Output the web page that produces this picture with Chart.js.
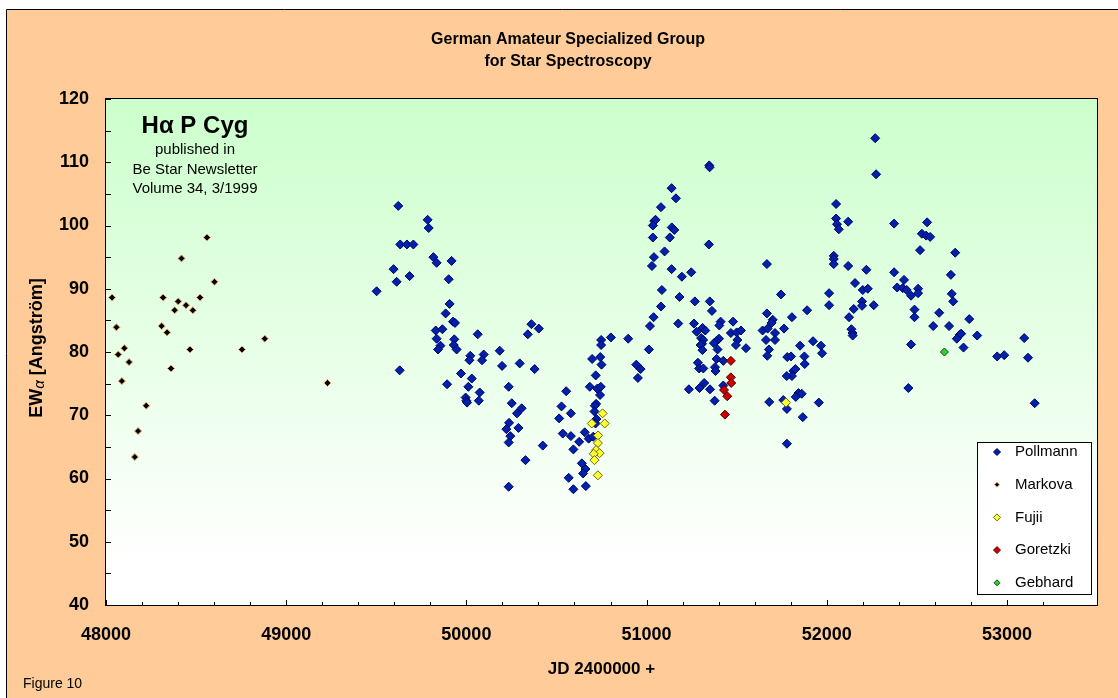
<!DOCTYPE html>
<html>
<head>
<meta charset="utf-8">
<title>H-alpha P Cyg</title>
<script src="https://cdn.jsdelivr.net/npm/chart.js@4.4.0/dist/chart.umd.min.js"></script>
<style>
  html, body { margin: 0; padding: 0; background: #ffffff; }
  #wrap { position: relative; width: 1118px; height: 698px; }
</style>
</head>
<body>
<div id="wrap"><canvas id="ha-chart"></canvas></div>
<script>
// values (JD - 2400000, EW in Angstrom)
const pollmannJD = [
  49502, 49622, 49630, 49785, 49791, 49633, 49670, 49706, 49817, 49835,
  49918, 49596, 49685, 49613, 49902, 49907, 49885, 49926, 49937, 49830,
  49867, 49835, 49933, 50063, 49856, 49843, 49930, 49946, 50361, 50402,
  50341, 50185, 50022, 50017, 50096, 50087, 50198, 50296, 50379, 49970,
  50030, 49893, 50011, 50235, 50074, 49996, 50000, 50004, 50069, 50554,
  50252, 50307, 50281, 50528, 50580, 50515, 50237, 50222, 50289, 50244,
  50235, 50535, 50580, 50626, 50424, 50594, 50328, 50568, 50594, 50235,
  51348, 51350, 51139, 51163, 51080, 51043, 51050, 51035, 51140, 51154,
  51035, 51129, 51346, 51100, 51041, 51030, 51139, 51196, 51248, 51668,
  51085, 51183, 51268, 51351, 51080, 51363, 51668, 51039, 51019, 51176,
  51263, 51411, 51404, 51480, 51311, 51326, 51278, 51468, 51500, 51524,
  51644, 51672, 51303, 51314, 51308, 51300, 51310, 51402, 51387, 51374,
  51504, 51496, 51663, 51394, 51552, 51679, 51670, 50748, 50748, 50802,
  50898, 51013, 50698, 50743, 50750, 50943, 50967, 50952, 51285, 51292,
  51315, 51389, 51426, 51380, 51383, 50718, 50685, 50726, 50746, 50742,
  51235, 51294, 51320, 51352, 51426, 51378, 51681, 50720, 50713, 50711,
  50722, 50717, 50657, 50679, 50704, 50641, 50661, 50648, 50663,
  52269, 52274, 52052, 52052, 52057, 52067, 52119, 52374, 52557, 52528,
  52552, 52574, 52518, 52713, 52039, 52039, 52039, 52119, 52220, 52374,
  52689, 52429, 52157, 52200, 52228, 52391, 52422, 52444, 52468, 52507,
  52507, 52694, 52702, 51746, 52013, 52013, 52196, 52196, 52261, 51891,
  52150, 52487, 52487, 52624, 51807, 52124, 51700, 51694, 52591, 52679,
  52737, 52722, 51763, 51713, 52137, 52143, 52144, 51713, 51924, 51968,
  51974, 51852, 52468, 51781, 51802, 51876, 51878, 51815, 51826, 51807,
  51778, 51843, 51828, 51861, 51759, 51779, 51956, 51867, 52453, 51779,
  52791, 52746, 52835, 52759, 53096, 52946, 52985, 53117, 53154
];
const pollmannEW = [
  89.6, 103.1, 77.1, 100.9, 99.6, 97.0, 97.0, 97.0, 95.0, 94.1,
  94.4, 93.1, 92.0, 91.1, 91.5, 87.6, 86.1, 84.8, 84.6, 83.4,
  83.6, 82.1, 82.0, 82.8, 81.0, 80.4, 81.1, 80.4, 84.4, 83.7,
  82.8, 80.2, 79.4, 78.7, 79.6, 78.7, 77.8, 78.2, 77.3, 76.6,
  75.8, 74.9, 74.5, 74.5, 73.6, 72.8, 72.3, 72.0, 72.3, 73.8,
  71.9, 71.1, 70.3, 71.4, 70.3, 69.5, 68.8, 67.8, 68.0, 66.7,
  65.7, 67.1, 66.7, 65.8, 65.2, 64.6, 62.9, 60.1, 58.3, 58.7,
  109.5, 109.2, 105.9, 104.3, 102.9, 100.7, 100.9, 100.0, 99.7, 99.3,
  98.1, 98.1, 97.0, 95.9, 95.0, 93.6, 93.1, 91.9, 92.6, 93.9,
  89.8, 88.7, 88.0, 88.0, 87.2, 86.5, 86.1, 85.5, 84.1, 84.5,
  84.5, 84.8, 84.2, 84.8, 83.8, 83.4, 83.2, 83.0, 83.1, 83.4,
  83.4, 83.7, 82.2, 81.9, 81.3, 81.1, 80.3, 82.1, 81.7, 81.4,
  81.9, 81.1, 81.9, 80.4, 80.6, 80.4, 79.4, 81.9, 81.1, 82.3,
  82.1, 80.4, 78.9, 79.2, 78.0, 78.0, 77.3, 75.9, 78.3, 77.4,
  77.4, 78.9, 78.6, 77.6, 77.0, 76.3, 74.5, 74.2, 74.5, 73.2,
  74.1, 74.3, 75.1, 74.1, 74.7, 72.3, 72.1, 71.8, 71.5, 70.6,
  69.4, 68.7, 67.3, 66.3, 66.6, 62.4, 61.5, 60.8, 58.8,
  113.8, 108.1, 103.4, 101.1, 100.2, 99.4, 100.6, 100.3, 100.5, 98.7,
  98.4, 98.2, 96.1, 95.7, 95.2, 94.7, 93.9, 93.6, 93.0, 92.6,
  92.2, 91.4, 90.9, 89.8, 90.0, 90.2, 90.1, 89.8, 88.9, 90.0,
  89.3, 89.2, 88.0, 89.1, 89.3, 87.4, 88.0, 87.3, 87.4, 86.6,
  86.8, 86.7, 85.5, 86.2, 85.5, 85.5, 85.1, 84.6, 84.1, 84.1,
  82.7, 82.1, 83.7, 83.0, 83.6, 83.0, 82.6, 81.9, 81.7, 81.0,
  79.8, 81.0, 81.2, 79.2, 79.3, 79.3, 78.1, 77.0, 77.3, 76.2,
  76.2, 73.5, 72.9, 73.4, 72.4, 71.0, 72.0, 69.7, 74.3, 65.5,
  85.2, 82.9, 82.6, 80.7, 82.2, 79.3, 79.5, 79.1, 71.9
];

const markovaJD = [
  48034, 48317, 48401, 48444, 48381, 48482, 48522, 48419, 48560, 48602,
  48058, 48068, 48102, 48128, 48088, 48223, 48178, 48160, 48309, 48339,
  48361, 48466, 48755, 48881, 49229
];
const markovaEW = [
  88.6, 88.6, 88.0, 87.4, 86.6, 86.6, 88.6, 94.8, 98.1, 91.1,
  83.9, 79.6, 80.6, 78.4, 75.4, 71.5, 67.5, 63.4, 84.1, 83.1,
  77.4, 80.4, 80.4, 82.1, 75.1
];

const fujiiJD = [50756, 50696, 50768, 50731, 50730, 50720, 50739, 50707, 50711, 50730, 51774];
const fujiiEW = [70.3, 68.7, 68.7, 66.8, 65.6, 64.5, 64.0, 63.9, 62.9, 60.5, 72.0];

const goretzkiJD = [51468, 51468, 51470, 51430, 51448, 51435];
const goretzkiEW = [78.6, 76.0, 75.1, 74.0, 73.0, 70.1];

const gebhardJD = [52653];
const gebhardEW = [80.0];

const xTickLabels = [48000, 49000, 50000, 51000, 52000, 53000];
const yTickLabels = [40, 50, 60, 70, 80, 90, 100, 110, 120];

const toPoints = (jd, ew) => jd.map((x, i) => ({ x: x, y: ew[i] }));

const observers = [
  { label: "Pollmann", jd: pollmannJD, ew: pollmannEW, fill: "#0022AA", edge: "#000066", r: 4.5, order: 5 },
  { label: "Markova",  jd: markovaJD,  ew: markovaEW,  fill: "#000000", edge: "#E8A860", r: 3.5, order: 4 },
  { label: "Fujii",    jd: fujiiJD,    ew: fujiiEW,    fill: "#FFFF33", edge: "#6B6B00", r: 4.5, order: 3 },
  { label: "Goretzki", jd: goretzkiJD, ew: goretzkiEW, fill: "#CC0000", edge: "#550000", r: 4.5, order: 2 },
  { label: "Gebhard",  jd: gebhardJD,  ew: gebhardEW,  fill: "#33CC33", edge: "#005500", r: 4, order: 1 },
];

const FONT = "'Liberation Sans', Arial, Helvetica, sans-serif";

function diamond(ctx, x, y, r, fill, edge) {
  ctx.beginPath();
  ctx.moveTo(x, y - r);
  ctx.lineTo(x + r, y);
  ctx.lineTo(x, y + r);
  ctx.lineTo(x - r, y);
  ctx.closePath();
  ctx.fillStyle = fill;
  ctx.fill();
  ctx.lineWidth = 1;
  ctx.strokeStyle = edge;
  ctx.stroke();
}

const sheet = {
  id: "sheet",
  beforeDraw(chart) {
    const { ctx, width, height, chartArea: a } = chart;
    ctx.save();
    ctx.fillStyle = "#ffffff";
    ctx.fillRect(0, 0, width, height);
    ctx.fillStyle = "#FFCC99";
    ctx.fillRect(6.5, 9.5, width, height);
    ctx.strokeStyle = "#000000";
    ctx.lineWidth = 1;
    ctx.beginPath();
    ctx.moveTo(6.5, height);
    ctx.lineTo(6.5, 9.5);
    ctx.lineTo(width, 9.5);
    ctx.stroke();

    const g = ctx.createLinearGradient(0, a.top, 0, a.bottom);
    g.addColorStop(0, "#CCFFCC");
    g.addColorStop(0.92, "#FFFFFF");
    g.addColorStop(1, "#FFFFFF");
    ctx.fillStyle = g;
    ctx.fillRect(a.left, a.top, a.right - a.left, a.bottom - a.top);
    ctx.restore();
  },
  afterDraw(chart) {
    const { ctx, chartArea: a } = chart;
    const xs = chart.scales.x, ys = chart.scales.y;
    ctx.save();

    // tick marks, pointing into the plot
    ctx.strokeStyle = "#000000";
    ctx.lineWidth = 1;
    ctx.beginPath();
    ys.ticks.forEach(t => {
      const py = Math.round(ys.getPixelForValue(t.value)) + 0.5;
      ctx.moveTo(a.left, py);
      ctx.lineTo(a.left + 5, py);
    });
    xs.ticks.forEach(t => {
      const px = Math.round(xs.getPixelForValue(t.value)) + 0.5;
      const len = t.value % 1000 === 0 ? 5 : 3;
      ctx.moveTo(px, a.bottom);
      ctx.lineTo(px, a.bottom - len);
    });
    ctx.stroke();
    ctx.strokeRect(Math.round(a.left) - 0.5, Math.round(a.top) - 0.5,
                   Math.round(a.right - a.left) + 1, Math.round(a.bottom - a.top) + 1);

    // heading
    ctx.fillStyle = "#000000";
    ctx.textAlign = "center";
    ctx.textBaseline = "middle";
    ctx.font = "bold 16px " + FONT;
    ctx.fillText("German Amateur Specialized Group", 568, 40);
    ctx.fillText("for Star Spectroscopy", 568, 62);

    // note in the plot
    ctx.font = "bold 24px " + FONT;
    ctx.fillText("H\u03B1 P Cyg", 195, 126);
    ctx.font = "15px " + FONT;
    ctx.fillText("published in", 195, 150);
    ctx.fillText("Be Star Newsletter", 195, 170);
    ctx.fillText("Volume 34, 3/1999", 195, 189);

    // axis titles
    ctx.font = "bold 17px " + FONT;
    ctx.fillText("JD 2400000 +", (a.left + a.right) / 2, 669);

    ctx.save();
    ctx.translate(37, 348);
    ctx.rotate(-Math.PI / 2);
    ctx.textAlign = "left";
    const p1 = "EW", p2 = "\u03B1", p3 = " [Angstr\u00F6m]";
    ctx.font = "bold 18px " + FONT;
    const w1 = ctx.measureText(p1).width, w3 = ctx.measureText(p3).width;
    ctx.font = "italic 15px " + FONT;
    const w2 = ctx.measureText(p2).width;
    let cx = -(w1 + w2 + w3) / 2;
    ctx.font = "bold 18px " + FONT;
    ctx.fillText(p1, cx, 0);
    cx += w1;
    ctx.font = "italic 15px " + FONT;
    ctx.fillText(p2, cx, 3);
    cx += w2;
    ctx.font = "bold 18px " + FONT;
    ctx.fillText(p3, cx, 0);
    ctx.restore();

    ctx.textAlign = "left";
    ctx.font = "14px " + FONT;
    ctx.fillText("Figure 10", 23, 684);

    // legend box
    const lx = 977, ly = 442, lw = 114, lh = 152;
    ctx.fillStyle = "#ffffff";
    ctx.fillRect(lx, ly, lw, lh);
    ctx.strokeStyle = "#000000";
    ctx.strokeRect(lx + 0.5, ly + 0.5, lw, lh);
    ctx.font = "15px " + FONT;
    chart.data.datasets.forEach((ds, i) => {
      const ry = 452 + i * 32.7;
      diamond(ctx, 997, ry, ds.pointRadius - 1, ds.backgroundColor, ds.borderColor);
      ctx.fillStyle = "#000000";
      ctx.textBaseline = "middle";
      ctx.fillText(ds.label, 1015, ry);
    });
    ctx.restore();
  }
};

new Chart(document.getElementById("ha-chart"), {
  type: "scatter",
  data: {
    datasets: observers.map(o => ({
      label: o.label,
      data: toPoints(o.jd, o.ew),
      pointStyle: "rectRot",
      pointRadius: o.r,
      pointHoverRadius: o.r,
      backgroundColor: o.fill,
      borderColor: o.edge,
      borderWidth: 1,
      order: o.order,
    })),
  },
  options: {
    responsive: true,
    maintainAspectRatio: false,
    animation: false,
    events: [],
    layout: { padding: { left: 0, right: 21, top: 99, bottom: 0 } },
    plugins: {
      legend: { display: false },
      tooltip: { enabled: false },
    },
    scales: {
      x: {
        type: "linear",
        min: 48000,
        max: 53500,
        afterFit: s => { s.height = 93; },
        grid: { drawOnChartArea: false, drawTicks: false },
        border: { display: false },
        ticks: {
          stepSize: 200,
          autoSkip: false,
          maxRotation: 0,
          padding: 19,
          color: "#000000",
          font: { family: FONT, size: 18, weight: "bold" },
          callback: v => xTickLabels.includes(v) ? String(v) : "",
        },
      },
      y: {
        min: 40,
        max: 120,
        afterFit: s => { s.width = 106; },
        grid: { drawOnChartArea: false, drawTicks: false },
        border: { display: false },
        ticks: {
          stepSize: 5,
          autoSkip: false,
          padding: 17,
          color: "#000000",
          font: { family: FONT, size: 18, weight: "bold" },
          callback: v => yTickLabels.includes(v) ? String(v) : "",
        },
      },
    },
  },
  plugins: [sheet],
});
</script>
</body>
</html>
